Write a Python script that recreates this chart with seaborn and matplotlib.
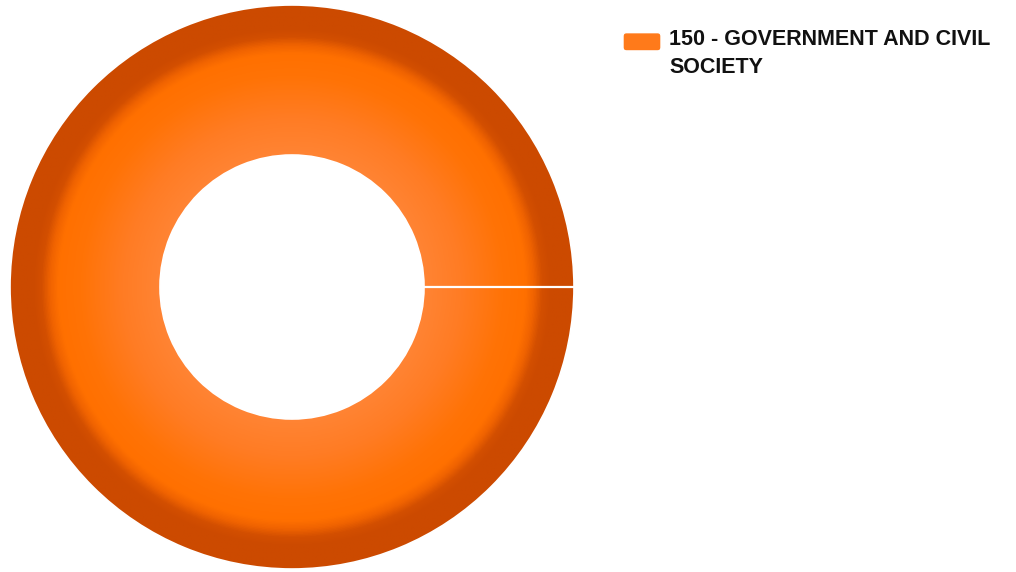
import numpy as np
import matplotlib
matplotlib.use("Agg")
import matplotlib.pyplot as plt
import seaborn as sns
from matplotlib.colors import LinearSegmentedColormap
from matplotlib.patches import Patch, FancyBboxPatch
from matplotlib.legend_handler import HandlerPatch
import textwrap

categories = ["150 - GOVERNMENT AND CIVIL SOCIETY"]
values = [100.0]

sns.set_theme(style="white")
plt.rcParams['font.family'] = ['Liberation Sans', 'DejaVu Sans']

W, H = 1016, 572
fig = plt.figure(figsize=(W / 100, H / 100), dpi=100)
fig.patch.set_facecolor("white")
ax = fig.add_axes([10 / W, 3 / H, 564 / W, 564 / H])

inner = 132 / 282
wedges, _ = ax.pie(values, radius=1.0, startangle=0, counterclock=True,
                   colors=["#FF7410"],
                   wedgeprops=dict(width=1 - inner, edgecolor="white", linewidth=1.2))

# radial gradient clipped to the donut
n = 700
xs = np.linspace(-1, 1, n)
X, Y = np.meshgrid(xs, xs)
R = np.sqrt(X ** 2 + Y ** 2)
cmap = LinearSegmentedColormap.from_list("ring", [
    (0.0, "#FF8434"),
    (inner, "#FF8434"),
    (0.60, "#FF7C24"),
    (0.75, "#FF7306"),
    (0.83, "#FF7000"),
    (0.86, "#F06300"),
    (0.89, "#D34F00"),
    (0.92, "#CC4A00"),
    (1.0, "#CC4A00"),
])
for w in wedges:
    img = ax.imshow(R, cmap=cmap, vmin=0, vmax=1, extent=(-1, 1, -1, 1),
                    origin="lower", interpolation="bilinear", zorder=1)
    img.set_clip_path(w)
    w.set_facecolor("none")
    w.set_zorder(2)
    # separator line at the slice start
    t = np.deg2rad(w.theta1)
    r0 = w.r - w.width
    ax.plot([r0 * np.cos(t), w.r * np.cos(t)], [r0 * np.sin(t), w.r * np.sin(t)],
            color="white", lw=1.6, zorder=3, solid_capstyle="butt")

ax.set_xlim(-1.0, 1.0)
ax.set_ylim(-1.0, 1.0)
ax.set_aspect("equal")
ax.axis("off")

FS = 15.5
LS = 1.45
PX = FS * 100 / 72


def legend_patch(legend, orig_handle, xdescent, ydescent, width, height, fontsize):
    shift = fontsize * LS * 0.62 - 5
    return FancyBboxPatch((-xdescent, -ydescent + shift), width, height,
                          boxstyle="round,pad=0,rounding_size=2.5",
                          facecolor="#FF7A1E", edgecolor="#E05A00", linewidth=1.4)


handles = [Patch(facecolor="#FF7A1A")]
labels = [textwrap.fill(c, 26) for c in categories]
leg = fig.legend(handles, labels, loc="upper left", bbox_to_anchor=(623 / W, 1 - 29 / H),
                 frameon=False, handlelength=38 / PX, handleheight=20 / PX,
                 handletextpad=0.38, borderpad=0, borderaxespad=0,
                 prop=dict(weight="bold", size=FS), labelcolor="#111111",
                 handler_map={Patch: HandlerPatch(patch_func=legend_patch)})
for txt in leg.get_texts():
    txt.set_linespacing(LS)

fig.savefig("out.png", dpi=100, facecolor="white")
